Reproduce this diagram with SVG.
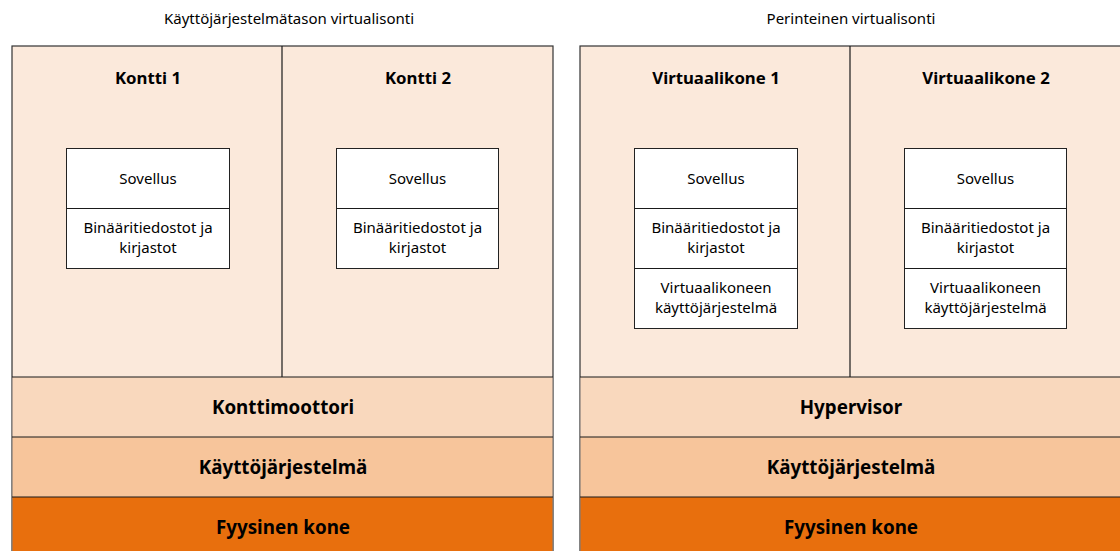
<svg xmlns="http://www.w3.org/2000/svg" width="1120" height="551" viewBox="0 0 1120 551">
<style>
.t{font-family:"Noto Sans","Liberation Sans",Arial,sans-serif;fill:#000;text-anchor:middle}
.title{font-size:15px}
.h{font-size:16.8px;font-weight:bold}
.hl{font-size:18.8px;font-weight:bold}
.s{font-size:15px}
.ln{stroke:#1a1a1a;stroke-width:1.2}
.panel{fill:#FBE9DB;stroke:#333;stroke-width:1.2}
.box{fill:#fff;stroke:#222;stroke-width:1}
.l1{fill:#F9D8BD}
.l2{fill:#F7C59B}
.l3{fill:#E86F0D}
</style>
<text class="t title" x="289" y="24">Käyttöjärjestelmätason virtualisonti</text>
<text class="t title" x="851" y="24">Perinteinen virtualisonti</text>

<g id="left-panel">
<rect class="panel" x="12" y="46" width="541" height="520"/>
<rect class="l1" x="12.6" y="377" width="539.8" height="60"/>
<rect class="l2" x="12.6" y="437" width="539.8" height="60"/>
<rect class="l3" x="12.6" y="497" width="539.8" height="60"/>
<line class="ln" x1="282" y1="46" x2="282" y2="377"/>
<line class="ln" x1="12" y1="377" x2="553" y2="377"/>
<line class="ln" x1="12" y1="437" x2="553" y2="437"/>
<line class="ln" x1="12" y1="497" x2="553" y2="497"/>
</g>
<g id="right-panel">
<rect class="panel" x="580" y="46" width="560" height="520"/>
<rect class="l1" x="580.6" y="377" width="560" height="60"/>
<rect class="l2" x="580.6" y="437" width="560" height="60"/>
<rect class="l3" x="580.6" y="497" width="560" height="60"/>
<line class="ln" x1="850" y1="46" x2="850" y2="377"/>
<line class="ln" x1="580" y1="377" x2="1120" y2="377"/>
<line class="ln" x1="580" y1="437" x2="1120" y2="437"/>
<line class="ln" x1="580" y1="497" x2="1120" y2="497"/>
</g>

<g id="kontti1">
<text class="t h" x="148" y="84">Kontti 1</text>
<rect class="box" x="66.5" y="148.5" width="163" height="120"/>
<line class="ln" x1="66.5" y1="208.5" x2="229.5" y2="208.5"/>
<text class="t s" x="148" y="184">Sovellus</text>
<text class="t s" x="148" y="233">Binääritiedostot ja</text>
<text class="t s" x="148" y="253">kirjastot</text>
</g>
<g id="kontti2">
<text class="t h" x="418" y="84">Kontti 2</text>
<rect class="box" x="336.5" y="148.5" width="162" height="120"/>
<line class="ln" x1="336.5" y1="208.5" x2="498.5" y2="208.5"/>
<text class="t s" x="417.5" y="184">Sovellus</text>
<text class="t s" x="417.5" y="233">Binääritiedostot ja</text>
<text class="t s" x="417.5" y="253">kirjastot</text>
</g>
<g id="virtuaalikone1">
<text class="t h" x="716" y="84">Virtuaalikone 1</text>
<rect class="box" x="634.5" y="148.5" width="163" height="180"/>
<line class="ln" x1="634.5" y1="208.5" x2="797.5" y2="208.5"/>
<line class="ln" x1="634.5" y1="268.5" x2="797.5" y2="268.5"/>
<text class="t s" x="716" y="184">Sovellus</text>
<text class="t s" x="716" y="233">Binääritiedostot ja</text>
<text class="t s" x="716" y="253">kirjastot</text>
<text class="t s" x="716" y="293">Virtuaalikoneen</text>
<text class="t s" x="716" y="313">käyttöjärjestelmä</text>
</g>
<g id="virtuaalikone2">
<text class="t h" x="986" y="84">Virtuaalikone 2</text>
<rect class="box" x="904.5" y="148.5" width="162" height="180"/>
<line class="ln" x1="904.5" y1="208.5" x2="1066.5" y2="208.5"/>
<line class="ln" x1="904.5" y1="268.5" x2="1066.5" y2="268.5"/>
<text class="t s" x="985.5" y="184">Sovellus</text>
<text class="t s" x="985.5" y="233">Binääritiedostot ja</text>
<text class="t s" x="985.5" y="253">kirjastot</text>
<text class="t s" x="985.5" y="293">Virtuaalikoneen</text>
<text class="t s" x="985.5" y="313">käyttöjärjestelmä</text>
</g>

<g id="konttimoottori"><text class="t hl" x="283" y="414">Konttimoottori</text></g>
<g id="kayttojarjestelma-left"><text class="t hl" x="283" y="474">Käyttöjärjestelmä</text></g>
<g id="fyysinen-left"><text class="t hl" x="283" y="534">Fyysinen kone</text></g>
<g id="hypervisor"><text class="t hl" x="851" y="414">Hypervisor</text></g>
<g id="kayttojarjestelma-right"><text class="t hl" x="851" y="474">Käyttöjärjestelmä</text></g>
<g id="fyysinen-right"><text class="t hl" x="851" y="534">Fyysinen kone</text></g>
<g id="connectors"/>
</svg>
